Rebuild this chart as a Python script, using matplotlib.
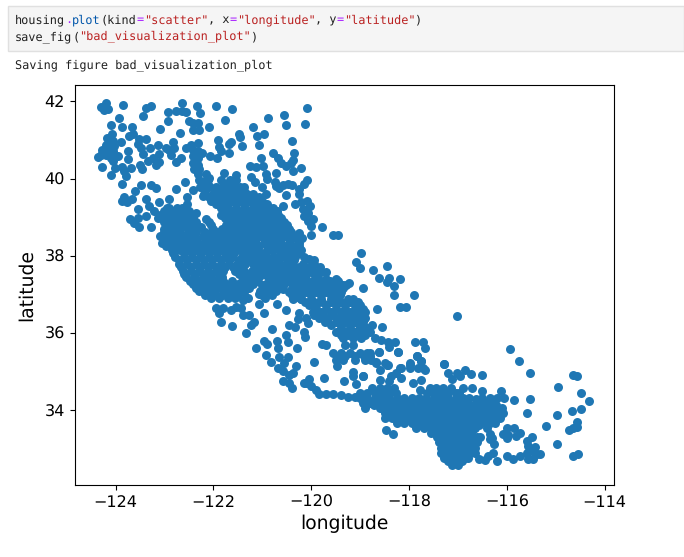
import matplotlib
matplotlib.use('Agg')
import matplotlib.pyplot as plt
from matplotlib.patches import Rectangle

plt.rcParams['text.hinting'] = 'no_hinting'

# points, (longitude, latitude)
north = [(-124.30,41.86),(-124.19,41.95),(-124.23,41.78),(-124.16,41.80),(-123.84,41.90),(-123.38,41.82),(-123.28,41.88),
 (-123.43,41.62),(-123.94,41.56),(-124.10,41.38),(-123.86,41.34),(-123.67,41.33),(-124.08,41.16),(-123.73,41.11),(-123.64,41.14),
 (-123.89,40.95),(-124.18,41.05),(-124.13,41.01),(-124.06,40.96),(-124.20,40.88),(-124.10,40.88),(-124.03,40.84),(-124.27,40.75),
 (-124.16,40.75),(-124.06,40.71),(-123.96,40.58),(-124.35,40.56),(-124.30,40.62),(-124.20,40.62),(-124.10,40.54),(-124.06,40.45),
 (-124.27,40.30),(-124.02,40.26),(-124.10,40.10),(-123.86,40.30),(-123.82,40.19),(-123.69,40.28),(-123.79,40.06),(-123.75,40.70),
 (-123.75,40.51),(-123.53,41.02),(-123.55,40.90),(-123.48,40.79),(-123.37,41.02),(-123.43,40.64),(-123.30,40.79),(-123.14,40.87),
 (-123.12,40.64),(-123.24,40.54),(-123.34,40.45),(-123.11,40.42),(-123.17,40.34),(-123.50,40.35),(-123.45,40.25),(-122.93,41.72),
 (-122.76,41.76),(-122.65,41.95),(-122.65,41.74),(-122.56,41.72),(-122.34,41.87),(-122.28,41.69),(-121.95,41.87),(-121.62,41.80),
 (-122.93,41.50),(-123.10,41.28),(-122.50,41.48),(-122.42,41.44),(-122.32,41.44),(-122.41,41.26),(-122.29,41.25),(-122.10,41.33),
 (-122.69,41.18),(-121.77,41.51),(-121.48,41.16),(-121.45,41.07),(-121.42,40.84),(-121.91,41.00),(-121.64,40.95),(-121.68,40.90),
 (-121.88,40.81),(-121.84,40.71),(-121.68,40.65),(-122.07,40.58),(-121.93,40.54),(-122.83,40.95),(-122.97,40.79),(-122.91,40.75),
 (-122.80,40.79),(-122.87,40.60),(-122.66,40.54),(-122.77,40.43),(-122.57,40.78),(-122.46,40.86),(-122.32,40.92),(-122.42,40.75),
 (-122.32,40.71),(-122.23,40.66),(-122.42,40.58),(-122.32,40.54),(-122.42,40.41),(-122.32,40.36),(-122.39,40.24),(-122.29,40.24),
 (-122.32,40.11),(-122.15,40.11),(-122.08,40.02),(-122.18,39.94),(-122.22,39.81),(-121.79,40.15),(-121.53,40.08)]

# loose points east of the valley, and the coast ranges to the west
valley_edge = [(-120.09,41.82),(-120.56,41.64),(-120.89,41.56),(-120.51,41.38),(-120.13,41.41),(-121.20,41.33),(-121.11,41.10),
 (-120.97,41.15),(-120.40,40.98),(-121.07,40.87),(-120.79,40.66),(-120.36,40.66),(-121.03,40.54),(-120.68,40.53),(-120.62,40.41),
 (-120.51,40.32),(-120.41,40.41),(-120.38,40.49),(-120.21,40.28),(-120.38,40.20),(-120.72,40.15),(-121.26,40.32),(-121.13,40.30),
 (-120.99,40.32),(-120.92,40.11),(-120.91,39.98),(-121.23,40.05),(-121.15,39.90),(-121.01,39.79),(-120.75,39.92),(-120.72,39.81),
 (-120.65,39.75),(-120.58,39.82),(-120.48,39.87),(-120.39,39.83),(-120.09,39.95),(-120.15,39.85),(-120.25,39.72),(-120.24,39.59),
 (-120.52,39.57),(-120.92,39.59),(-120.58,39.30),(-120.70,39.15),(-120.34,39.35),(-120.21,39.38),(-120.09,39.42),(-120.03,39.29),
 (-120.17,39.20),(-120.07,39.12),(-120.14,39.03),(-119.97,38.95),(-120.07,38.91),(-120.00,38.78),(-119.78,38.74),(-120.46,38.63),
 (-120.25,38.58),(-120.19,38.45),(-120.01,38.55),(-119.56,38.55),(-119.45,38.55)]
coast_range = [(-123.86,39.87),(-123.49,39.84),(-123.60,39.69),(-123.27,39.84),(-123.17,39.76),(-122.76,39.74),(-122.59,39.92),
 (-122.41,39.71),(-122.55,39.53),(-122.53,39.33),(-122.90,39.46),(-123.83,39.51),(-123.86,39.42),(-123.76,39.38),(-123.66,39.46),
 (-123.55,39.20),(-123.38,39.46),(-123.32,39.29),(-123.12,39.38),(-123.21,39.16),(-123.14,38.99),(-123.38,39.04),(-123.71,38.94),
 (-123.62,38.86),(-123.52,38.74),(-123.55,38.97),(-123.27,38.74),(-122.90,39.25),(-122.80,39.16),(-122.70,39.16),(-122.55,39.12),
 (-122.35,39.12),(-122.26,38.74),(-122.15,38.95),(-122.22,39.55),(-122.08,39.81),(-121.94,39.72),(-121.81,39.81),(-121.67,39.81)]

central_rows = [
 (39.95, [-122.29,-122.12,-121.85,-121.67,-121.53]),
 (39.86, [-122.20,-121.76,-121.60]),
 (39.77, [-122.27,-122.10,-121.95,-121.78,-121.60,-121.45,-121.38]),
 (39.68, [-122.18,-121.87,-121.70,-121.53,-121.38]),
 (39.60, [-122.20,-122.00,-121.83,-121.66,-121.49,-121.32,-121.20]),
 (39.51, [-122.10,-121.90,-121.72,-121.55,-121.38,-121.20,-121.06]),
 (39.42, [-122.05,-121.93,-121.80,-121.62,-121.45,-121.28,-121.10,-121.00]),
 (39.33, [-121.95,-121.72,-121.54,-121.37,-121.20,-121.04,-120.90]),
 (39.24, [-122.95,-122.75,-122.65,-121.85,-121.70,-121.53,-121.36,-121.20,-121.03,-120.86,-120.78]),
 (39.15, [-123.00,-122.84,-122.68,-122.50,-121.78,-121.60,-121.43,-121.26,-121.08,-120.90,-120.73]),
 (39.06, [-123.10,-122.93,-122.76,-122.59,-122.42,-121.85,-121.68,-121.50,-121.33,-121.16,-120.99,-120.80,-120.68]),
 (38.97, [-123.05,-122.87,-122.70,-122.55,-122.42,-121.76,-121.60,-121.43,-121.26,-121.10,-120.92,-120.75,-120.62]),
 (38.88, [-123.00,-122.83,-122.66,-122.49,-122.36,-122.10,-121.70,-121.53,-121.36,-121.19,-121.02,-120.85,-120.68,-120.55]),
 (38.79, [-122.95,-122.77,-122.60,-122.43,-122.05,-121.74,-121.58,-121.44,-121.27,-121.10,-120.93,-120.76,-120.60,-120.50]),
 (38.70, [-123.02,-122.85,-122.68,-122.51,-122.36,-122.00,-121.83,-121.66,-121.49,-121.32,-121.15,-120.98,-120.81,-120.64,-120.45]),
 (38.61, [-123.02,-122.85,-122.68,-122.50,-122.36,-122.18,-122.02,-121.92,-121.75,-121.58,-121.41,-121.24,-121.07,-120.90,-120.73,-120.56,-120.42]),
 (38.52, [-123.10,-122.93,-122.76,-122.59,-122.42,-122.22,-122.05,-121.88,-121.71,-121.54,-121.37,-121.20,-121.03,-120.86,-120.69,-120.52,-120.35]),
 (38.43, [-123.02,-122.85,-122.68,-122.50,-122.33,-122.15,-121.97,-121.80,-121.63,-121.46,-121.29,-121.12,-120.95,-120.78,-120.61,-120.44,-120.30]),
 (38.34, [-123.05,-122.88,-122.71,-122.54,-122.37,-122.20,-122.03,-121.90,-121.76,-121.65,-121.48,-121.31,-121.14,-120.97,-120.80,-120.63,-120.46,-120.25]),
 (38.25, [-122.97,-122.80,-122.63,-122.46,-122.29,-122.12,-121.95,-121.78,-121.57,-121.40,-121.23,-121.06,-120.89,-120.72,-120.55,-120.38,-120.25]),
 (38.16, [-122.85,-122.68,-122.51,-122.34,-122.17,-122.00,-121.83,-121.66,-121.55,-121.45,-121.28,-121.11,-120.90,-120.78,-120.65,-120.48,-120.30,-120.20]),
 (38.07, [-122.82,-122.60,-122.43,-122.26,-122.09,-121.92,-121.75,-121.58,-121.37,-121.20,-121.03,-120.92,-120.60,-120.43,-120.26]),
 (37.98, [-122.78,-122.61,-122.44,-122.27,-122.10,-121.93,-121.76,-121.62,-121.42,-121.25,-121.08,-120.92,-120.78,-120.68,-120.51,-120.34,-120.15]),
 (37.89, [-122.70,-122.53,-122.36,-122.19,-122.02,-121.85,-121.68,-121.47,-121.34,-121.17,-121.00,-120.83,-120.66,-120.48,-120.35]),
 (37.80, [-122.70,-122.53,-122.36,-122.19,-122.02,-121.85,-121.68,-121.51,-121.35,-121.20,-121.03,-120.86,-120.69,-120.52,-120.40,-120.17,-119.95]),
 (37.71, [-122.66,-122.45,-122.28,-122.11,-121.94,-121.77,-121.60,-121.45,-121.12,-120.95,-120.78,-120.61,-120.44,-120.24,-120.05]),
 (37.62, [-122.63,-122.46,-122.29,-122.12,-121.95,-121.80,-121.55,-121.38,-121.21,-121.04,-120.87,-120.70,-120.53,-120.30,-120.10,-119.97,-119.82]),
 (37.53, [-122.60,-122.38,-122.21,-122.04,-121.87,-121.47,-121.30,-121.13,-120.96,-120.79,-120.62,-120.45,-120.28,-120.12,-119.95]),
 (37.44, [-122.56,-122.39,-122.22,-122.05,-121.88,-121.82,-121.40,-121.23,-121.06,-120.89,-120.72,-120.55,-120.38,-120.20]),
 (37.35, [-122.48,-122.31,-122.14,-121.97,-121.80,-121.63,-121.42,-121.27,-121.10,-120.85,-120.64,-120.47,-120.30,-120.13,-119.97,-119.80,-119.62,-119.45]),
 (37.26, [-122.42,-122.25,-122.08,-121.91,-121.74,-121.60,-121.50,-121.33,-121.20,-120.72,-120.55,-120.38,-120.21,-120.04,-119.90]),
 (37.17, [-122.35,-122.19,-122.02,-121.85,-121.68,-121.56,-121.45,-121.28,-120.80,-120.63,-120.40,-120.20,-120.00,-119.80,-119.60,-119.45,-119.35]),
 (37.08, [-122.30,-122.13,-121.96,-121.79,-121.60,-121.45,-121.05,-120.88,-120.72]),
 (36.99, [-122.17,-122.00,-121.83,-121.66,-121.50,-121.00,-120.80,-120.40,-120.20,-120.00,-119.80,-119.60,-119.42]),
 (36.90, [-122.05,-121.88,-121.71,-121.55,-121.30,-120.95]),
 (37.58, [-120.34,-120.20,-120.04,-119.80,-119.70]),
 (37.41, [-120.65,-120.38,-120.10,-119.86,-119.70,-119.49]),
 (37.24, [-121.00,-120.80,-120.65,-120.30,-120.10,-119.90,-119.70,-119.50,-119.35,-119.28]),
 (37.07, [-120.45,-120.30,-120.10,-119.90,-119.70,-119.50,-119.40]),
 (36.89, [-120.38,-120.20,-120.00,-119.80,-119.60,-119.45,-119.25,-119.15]),
 (36.80, [-120.12,-119.95,-119.78,-119.60,-119.40,-119.20,-119.05]),
 (36.72, [-120.05,-119.90,-119.70,-119.50,-119.30,-119.10,-119.00]),
 (36.63, [-119.90,-119.70,-119.50,-119.30,-119.10,-118.95]),
 (36.55, [-119.97,-119.80,-119.60,-119.40,-119.20,-119.03,-118.90]),
 (36.46, [-119.95,-119.75,-119.55,-119.35,-119.15,-118.98]),
 (36.38, [-119.85,-119.65,-119.45,-119.25,-119.05,-118.90]),
 (36.30, [-119.72,-119.50,-119.30,-119.10,-118.95]),
 (36.21, [-119.60,-119.40,-119.20,-119.02,-118.75]),
 (36.12, [-119.40,-119.20,-119.00,-118.85]),
 (36.04, [-119.49,-119.30,-119.10,-118.90,-118.80]),
 (35.95, [-119.40,-119.25,-119.05,-118.90]),
 (35.87, [-119.35,-119.15,-118.98]),
 (35.70, [-119.30,-119.15]),
 (35.48, [-119.55,-119.40,-119.20,-119.00,-118.85,-118.80]),
 (35.40, [-119.48,-119.30,-119.10,-118.92,-118.80]),
 (35.31, [-119.50,-119.35,-119.10,-118.90,-118.78]),
 (35.14, [-119.48]),
]

sierra = [(-120.04,37.92),(-119.94,37.88),(-119.83,37.71),(-118.98,38.08),(-119.08,37.84),(-119.01,37.68),(-118.74,37.63),(-118.45,37.73),
 (-118.61,37.43),(-118.40,37.43),(-118.45,37.31),(-118.18,37.41),(-118.31,37.22),(-118.31,36.99),(-117.90,36.99),(-119.22,37.30),
 (-118.94,37.17),(-118.18,36.68),(-118.07,36.68),(-118.66,36.63),(-117.03,36.45),(-118.55,36.17),(-118.70,35.87),(-118.43,35.78),
 (-118.57,35.82),(-118.29,35.78),(-118.40,35.65),(-118.61,35.52),(-118.23,35.52),(-117.88,35.78),(-117.71,35.78),(-117.68,35.61),
 (-117.84,35.40),(-117.75,35.27),(-117.28,35.19),(-117.99,35.18),(-117.71,35.09),(-118.19,35.09),(-118.46,35.18),(-118.67,35.22)]

coast = [(-121.95,36.64),(-121.81,36.64),(-121.88,36.51),(-121.64,36.59),(-121.54,36.68),(-121.44,36.64),(-121.40,36.46),(-121.27,36.46),
 (-121.16,36.29),(-121.23,36.21),(-121.85,36.29),(-121.63,36.19),(-121.34,36.01),(-121.07,36.76),(-120.97,36.52),(-120.69,36.76),
 (-120.52,36.60),(-120.81,36.11),(-120.51,35.95),(-120.48,35.78),(-120.30,35.61),(-120.96,35.80),(-120.91,35.71),(-121.13,35.62),
 (-120.71,35.80),(-120.92,35.44),(-120.82,35.26),(-120.68,35.61),(-120.65,35.39),(-120.55,35.22),(-120.48,35.39),(-120.68,35.09),
 (-120.58,35.01),(-120.45,34.92),(-120.38,34.96),(-120.58,34.75),(-120.45,34.71),(-120.39,34.58),(-120.31,35.16),(-119.94,35.25),
 (-120.24,36.53),(-120.27,36.36),(-120.45,36.21),(-120.34,36.17),(-120.10,36.38),(-120.07,36.25),(-120.14,36.04),(-120.12,35.91),
 (-120.20,36.89),(-120.38,37.15),(-120.31,36.94),(-120.58,37.15),(-120.72,37.15),(-120.92,37.11),(-121.06,37.02),(-119.97,36.81),
 (-119.97,37.24),(-120.24,37.32),(-120.92,37.28),(-120.10,34.71),(-120.00,34.62),(-119.90,34.53),(-121.37,37.06),(-121.30,37.36),
 (-121.40,36.85),(-119.78,35.71),(-119.69,35.68),(-119.73,34.85),(-120.04,34.80),(-120.14,34.71),(-119.15,35.00),(-119.15,34.88),
 (-118.94,34.88),(-119.32,34.75),(-119.08,34.68),(-119.85,34.42),(-119.70,34.42),(-119.55,34.42),(-119.40,34.40),(-119.25,34.35),
 (-119.10,34.35)]

south_rows = [
 (34.58, [-118.75,-118.60,-118.45,-118.30,-117.58,-117.45,-117.30,-117.15]),
 (34.45, [-119.00,-118.85,-118.70,-118.55,-118.40,-118.27,-117.64,-117.50,-117.35,-117.20,-117.05,-116.97]),
 (34.32, [-119.00,-118.85,-118.70,-118.55,-118.40,-118.25,-118.10,-117.95,-117.80,-117.65,-117.50,-117.35,-117.20,-117.05,-116.90,-116.78,-116.50,-116.35,-116.20,-116.05]),
 (34.20, [-118.95,-118.80,-118.65,-118.50,-118.35,-118.20,-118.05,-117.90,-117.75,-117.60,-117.45,-117.30,-117.15,-117.00,-116.85,-116.60,-116.45,-116.30]),
 (34.14, [-118.88,-118.72,-118.58,-118.42,-118.28,-118.12,-117.98,-117.82,-117.68,-117.52,-117.38,-117.22,-117.08,-116.92,-116.78,-116.68,-116.52,-116.38,-116.22]),
 (34.07, [-118.90,-118.60,-118.45,-118.30,-118.15,-118.00,-117.85,-117.70,-117.55,-117.40,-117.25,-117.10,-116.95,-116.80,-116.65,-116.50,-116.35,-116.20,-116.10]),
 (34.00, [-118.52,-118.38,-118.22,-118.08,-117.92,-117.78,-117.62,-117.48,-117.32,-117.18,-117.02,-116.88,-116.72,-116.58,-116.42,-116.28,-116.15]),
 (33.94, [-118.50,-118.35,-118.20,-118.05,-117.90,-117.75,-117.60,-117.45,-117.30,-117.15,-117.00,-116.85,-116.70,-116.55,-116.40,-116.25,-116.15]),
 (33.87, [-118.42,-118.28,-118.12,-117.98,-117.82,-117.68,-117.52,-117.38,-117.22,-117.08,-116.92,-116.78,-116.62,-116.48,-116.32,-116.18]),
 (33.81, [-118.50,-118.35,-118.20,-118.05,-117.90,-117.75,-117.60,-117.45,-117.30,-117.15,-117.00,-116.85,-116.70,-116.55,-116.40,-116.25,-116.15]),
 (33.75, [-118.18,-118.02,-117.88,-117.72,-117.58,-117.42,-117.28,-117.12,-116.98,-116.82,-116.68,-116.52,-116.38,-116.25]),
 (33.68, [-118.25,-118.10,-117.95,-117.80,-117.65,-117.50,-117.35,-117.20,-117.05,-116.90,-116.75,-116.60,-116.45,-116.35,-116.25]),
 (33.62, [-117.78,-117.62,-117.48,-117.32,-117.18,-117.02,-116.88,-116.72,-116.58]),
 (33.55, [-117.85,-117.70,-117.55,-117.40,-117.25,-117.10,-116.95,-116.80,-116.65,-116.40]),
 (33.48, [-117.48,-117.32,-117.18,-117.02,-116.88,-116.72]),
 (33.42, [-117.55,-117.40,-117.25,-117.10,-116.95,-116.75]),
 (33.36, [-117.35,-117.20,-117.05,-116.90,-116.78]),
 (33.30, [-117.43,-117.28,-117.13,-116.98,-116.83,-116.62,-116.55]),
 (33.23, [-117.35,-117.15,-117.00,-116.85,-116.70]),
 (33.17, [-117.38,-117.23,-117.08,-116.93,-116.78,-116.62]),
 (33.10, [-117.30,-117.13,-116.98,-116.82,-116.68]),
 (33.04, [-117.35,-117.20,-117.05,-116.90,-116.75,-116.65]),
 (32.97, [-117.28,-117.13,-116.98,-116.82,-116.68]),
 (32.91, [-117.35,-117.20,-117.05,-116.90,-116.75,-116.65]),
 (32.85, [-117.28,-117.13,-116.98,-116.82]),
 (32.78, [-117.28,-117.13,-116.98,-116.85,-116.80]),
 (32.68, [-117.20,-117.06,-116.92]),
 (32.60, [-117.13,-117.00]),
]

desert = [(-118.61,35.52),(-118.22,35.52),(-117.84,35.40),(-117.75,35.27),(-115.94,35.58),(-115.75,35.29),(-115.52,34.96),(-114.64,34.92),
 (-114.57,34.88),(-114.95,34.60),(-114.48,34.44),(-114.32,34.24),(-115.52,34.29),(-115.85,34.26),(-116.13,34.50),(-116.50,34.50),
 (-116.50,34.91),(-116.73,34.94),(-116.85,35.04),(-117.03,34.97),(-117.20,34.98),(-117.13,34.80),(-116.96,34.88),(-117.28,35.19),
 (-116.72,34.57),(-116.89,34.58),(-116.63,34.30),(-114.66,33.98),(-114.48,34.03),(-114.97,33.88),(-115.58,33.93),(-116.07,33.93),
 (-115.21,33.60),(-114.57,33.71),(-114.57,33.57),(-114.72,33.49),(-114.64,33.55),(-114.97,33.13),(-114.54,32.88),(-114.64,32.81),
 (-118.94,34.88),(-118.60,34.78),(-118.67,35.25),(-118.60,35.05),(-118.50,35.22),(-118.43,35.18),(-117.99,35.22),(-117.99,35.10),
 (-117.81,35.10),(-117.68,35.05),(-118.16,35.10),(-118.26,34.97),(-118.36,34.88),(-117.75,34.78),(-117.92,34.71),(-118.16,34.84),
 (-118.40,34.75),(-117.78,34.54),(-118.48,33.49),(-118.33,33.39),(-116.00,33.55),(-115.85,33.55),(-116.07,33.40),(-115.97,33.36),
 (-115.81,33.34),(-115.73,33.42),(-116.00,33.28),(-116.35,33.40),(-116.31,33.28),(-116.35,33.25),(-116.26,33.13),(-116.28,32.91),
 (-116.38,32.82),(-116.45,32.71),(-116.58,32.74),(-116.20,32.70),(-115.99,32.81),(-115.88,32.75),(-115.73,32.82),(-115.59,33.21),
 (-115.49,33.30),(-115.56,33.08),(-115.42,33.05),(-115.59,32.91),(-115.49,32.95),(-115.39,32.87),(-115.32,32.88),(-115.56,32.74),
 (-115.46,32.74)]

code_line1 = [('housing', '#212121'), ('.', '#aa22ff'), ('plot', '#0055aa'), ('(kind', '#212121'), ('=', '#aa22ff'),
              ('"scatter"', '#ba2121'), (', x', '#212121'), ('=', '#aa22ff'), ('"longitude"', '#ba2121'), (', y', '#212121'),
              ('=', '#aa22ff'), ('"latitude"', '#ba2121'), (')', '#212121')]
code_line2 = [('save_fig', '#212121'), ('(', '#212121'), ('"bad_visualization_plot"', '#ba2121'), (')', '#212121')]
output_line = 'Saving figure bad_visualization_plot'

scattered = north + valley_edge + coast_range + sierra + coast + desert
lons = [p[0] for p in scattered]
lats = [p[1] for p in scattered]
for lat, row in central_rows + south_rows:
    lons += row
    lats += [lat] * len(row)

W, H = 684, 557
fig = plt.figure(figsize=(W / 100, H / 100), dpi=100)


def mono(x, y, s, color):
    fig.text(x / W, 1 - y / H, s, color=color, family='DejaVu Sans Mono', fontsize=8.55, va='center', ha='left')


# notebook cell above the figure
fig.add_artist(Rectangle((8 / W, 1 - 51 / H), 676 / W, 45 / H, transform=fig.transFigure,
                         facecolor='#f5f5f5', edgecolor='#e0e0e0', linewidth=1))
char_w = 7.15
for line, y in [(code_line1, 20), (code_line2, 37)]:
    x = 15
    for s, c in line:
        mono(x, y, s, c)
        x += len(s) * char_w
mono(15, 66, output_line, '#212121')

ax = fig.add_axes([74.5 / W, 1 - 485 / H, 539.5 / W, 400 / H])
ax.scatter(lons, lats, s=42, color='#1f77b4', linewidths=0)
ax.set_xlim(-124.84, -113.81)
ax.set_ylim(32.07, 42.42)
ax.set_xticks([-124, -122, -120, -118, -116, -114])
ax.set_yticks([34, 36, 38, 40, 42])
ax.tick_params(labelsize=11.5)
ax.set_xlabel('longitude', fontsize=13.5, labelpad=3)
ax.set_ylabel('latitude', fontsize=13.5, labelpad=6)

fig.savefig('out.png', dpi=100)
